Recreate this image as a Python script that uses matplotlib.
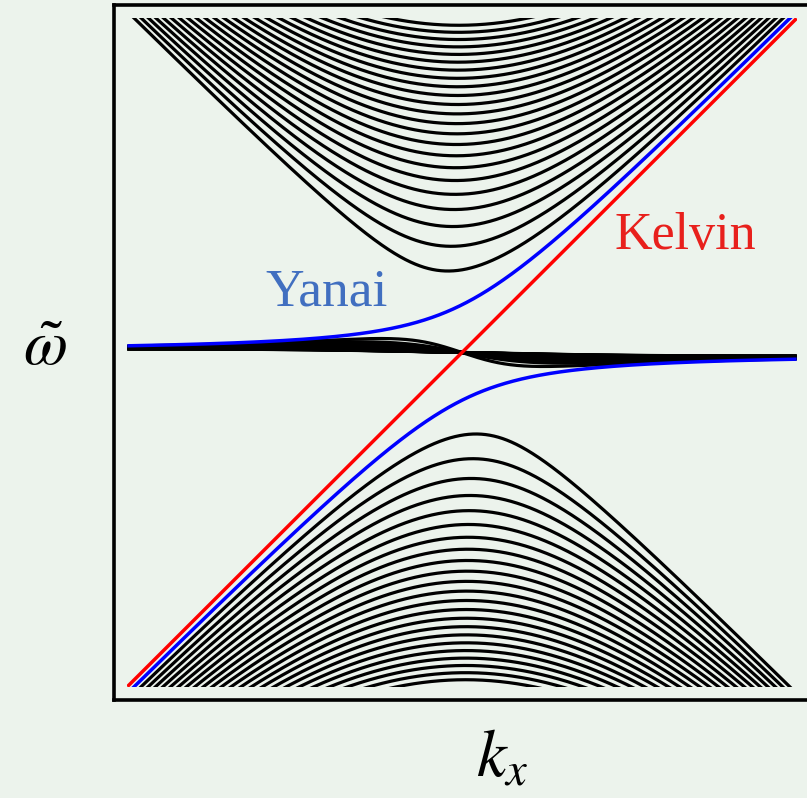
"""Equatorial shallow-water wave dispersion curves (Kelvin, Yanai, gravity, Rossby)."""

import numpy as np
import matplotlib
matplotlib.use("Agg")
import matplotlib.pyplot as plt
from matplotlib.patches import Rectangle

# meridional mode numbers drawn as black curves (gravity + Rossby branches)
mode_numbers = list(range(1, 24))
# plotted window in non-dimensional wavenumber / frequency
k_limit = 7.0
omega_limit = 7.0
# label anchors (k, omega)
yanai_label = (-4.12, 0.99)
kelvin_label = (3.2, 2.17)

bg = "#ecf3ec"
plt.rcParams["mathtext.fontset"] = "stix"

k = np.linspace(-k_limit, k_limit, 4001)


def cubic_roots(k, n):
    # omega^3 - (k^2 + 2n + 1) omega - k = 0, three real roots
    p = -(k ** 2 + 2 * n + 1)
    q = -k
    r = 2 * np.sqrt(-p / 3)
    th = np.arccos(np.clip(3 * q / (p * r), -1, 1)) / 3
    return [r * np.cos(th - 2 * np.pi * j / 3) for j in range(3)]


fig = plt.figure(figsize=(8.07, 7.98), dpi=100, facecolor=bg)
ax = fig.add_axes([114 / 807, 98 / 798, 696 / 807, 695 / 798], facecolor=bg)
clip = Rectangle((-k_limit, -omega_limit), 2 * k_limit, 2 * omega_limit,
                 transform=ax.transData)

lines = []
for n in mode_numbers:
    for w in cubic_roots(k, n):
        lines += ax.plot(k, w, color="black", lw=2.3, solid_capstyle="butt")

yanai_up = (k + np.sqrt(k ** 2 + 4)) / 2
yanai_dn = (k - np.sqrt(k ** 2 + 4)) / 2
lines += ax.plot(k, yanai_up, color="#0000ff", lw=2.5, solid_capstyle="butt")
lines += ax.plot(k, yanai_dn, color="#0000ff", lw=2.5, solid_capstyle="butt")
lines += ax.plot(k, k, color="#ff0000", lw=2.5, solid_capstyle="butt")
for ln in lines:
    ln.set_clip_path(clip)

ax.text(*yanai_label, "Yanai", color="#416fc0", fontsize=38.5,
        family="Liberation Serif", ha="left", va="baseline")
ax.text(*kelvin_label, "Kelvin", color="#e8201c", fontsize=37.5,
        family="Liberation Serif", ha="left", va="baseline")

ax.set_xlim(-7.28, 7.28)
ax.set_ylim(-7.28, 7.28)
ax.set_xticks([])
ax.set_yticks([])
for s in ax.spines.values():
    s.set_linewidth(2.6)

fig.text(45 / 807, 1 - 347 / 798, r"$\tilde{\omega}$", fontsize=46,
         ha="center", va="center")
fig.text(502 / 807, 1 - 757 / 798, r"$k_x$", fontsize=48,
         ha="center", va="center")

fig.savefig("out.png", dpi=100, facecolor=bg)
